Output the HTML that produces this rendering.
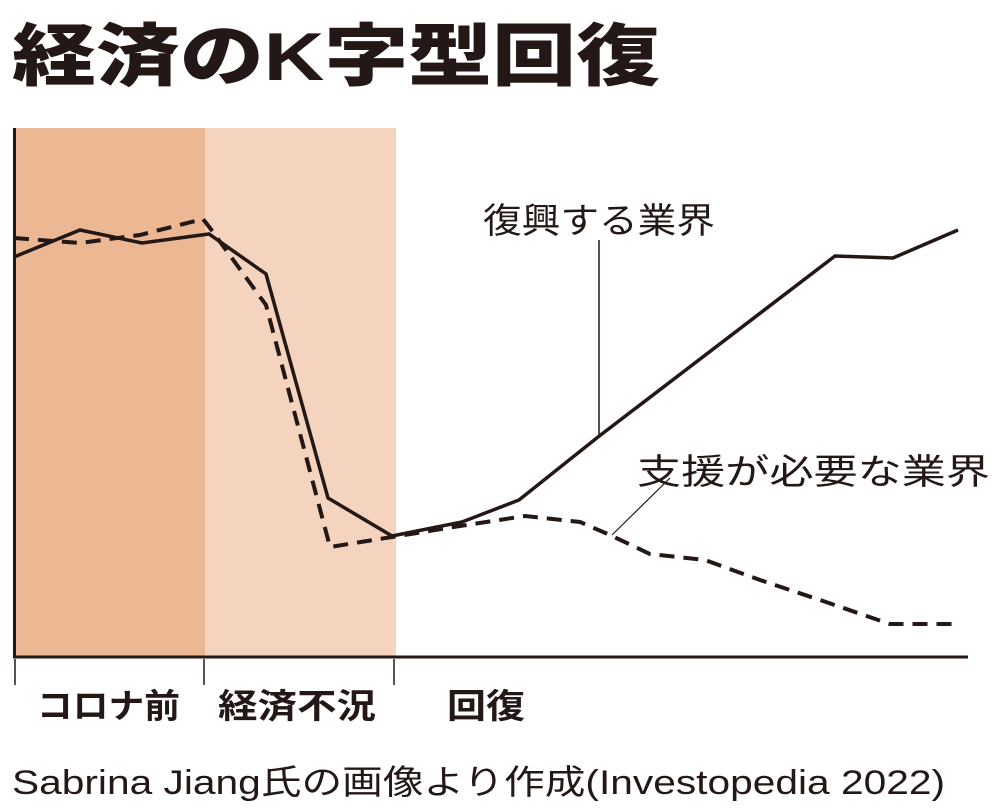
<!DOCTYPE html>
<html><head><meta charset="utf-8"><style>
html,body{margin:0;padding:0;background:#fff;width:1000px;height:809px;overflow:hidden}
svg{display:block}
</style></head><body>
<svg width="1000" height="809" xmlns="http://www.w3.org/2000/svg" font-family="'Liberation Sans','Noto Sans CJK JP',sans-serif">
<text x="12" y="80" font-size="68" font-weight="900" fill="#231815" textLength="648" lengthAdjust="spacingAndGlyphs">経済のK字型回復</text>
<rect x="15" y="128" width="190" height="528" fill="#ecb793"/>
<rect x="205" y="128" width="191" height="528" fill="#f4d4be"/>
<line x1="14.5" y1="128" x2="14.5" y2="658" stroke="#231815" stroke-width="3"/>
<line x1="13" y1="657" x2="968" y2="657" stroke="#231815" stroke-width="3"/>
<g stroke="#231815" stroke-width="1.5">
<line x1="15" y1="659" x2="15" y2="685"/>
<line x1="204" y1="659" x2="204" y2="685"/>
<line x1="394" y1="659" x2="394" y2="685"/>
<line x1="599" y1="240" x2="599" y2="437"/>
<line x1="612" y1="535" x2="670" y2="478" stroke-width="1.2"/>
</g>
<polyline fill="none" stroke="#231815" stroke-width="3.5" stroke-linejoin="miter" points="14,257 80,230 142,243 209,234 266,274 328,498 392,536 462,522 519,500 598,437 835,256 893,258 958,230"/>
<polyline fill="none" stroke="#231815" stroke-width="4" stroke-dasharray="15,9" points="14,238 80,243 140,235 203,219 210,228 266,305 330,547 392,537 460,526 525,516 580,522 610,535 650,554 705,560 760,580 820,600 890,624 960,624"/>
<text x="483" y="233" font-size="35" fill="#231815" textLength="232" lengthAdjust="spacingAndGlyphs">復興する業界</text>
<text x="637" y="484" font-size="35" fill="#231815" textLength="353" lengthAdjust="spacingAndGlyphs">支援が必要な業界</text>
<g font-size="34" font-weight="bold" fill="#231815">
<text x="37" y="718" textLength="143" lengthAdjust="spacingAndGlyphs">コロナ前</text>
<text x="218" y="718" textLength="158" lengthAdjust="spacingAndGlyphs">経済不況</text>
<text x="447" y="718" textLength="78" lengthAdjust="spacingAndGlyphs">回復</text>
</g>
<text x="12" y="794" font-size="34" fill="#231815" textLength="933" lengthAdjust="spacingAndGlyphs">Sabrina Jiang氏の画像より作成(Investopedia 2022)</text>
</svg>
</body></html>
